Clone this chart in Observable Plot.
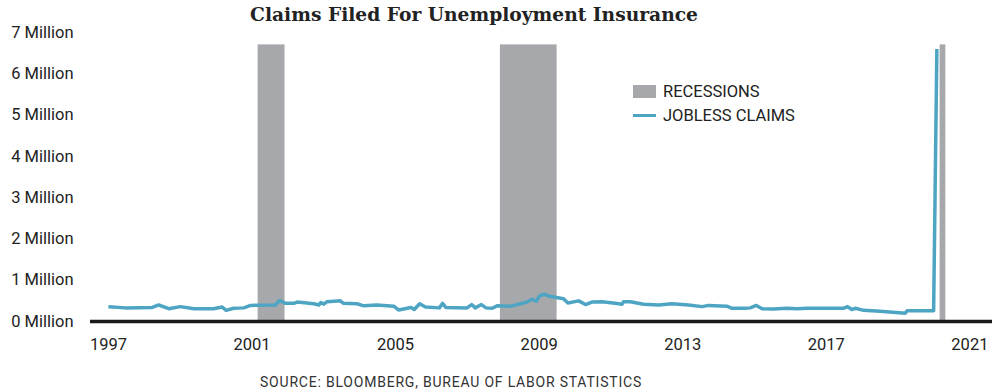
<!DOCTYPE html>
<html>
<head>
<meta charset="utf-8">
<script src="https://cdn.jsdelivr.net/npm/d3@7"></script>
<script src="https://cdn.jsdelivr.net/npm/@observablehq/plot@0.6"></script>
<style>
  html, body { margin: 0; padding: 0; background: #fff; }
  #wrap { position: relative; width: 992px; height: 391px; overflow: hidden; font-family: Roboto, sans-serif; color: #222; }
  #chart { position: absolute; left: 0; top: 0; }
  .title { position: absolute; left: 474px; top: 14px; transform: translate(-50%, -50%); white-space: nowrap;
           font-family: "DejaVu Serif", "Liberation Serif", serif; font-weight: bold; font-size: 17px; line-height: 1; color: #222; }
  .caption { position: absolute; left: 451px; top: 382px; transform: translate(-50%, -50%); white-space: nowrap;
             font-family: Roboto, sans-serif; font-size: 14px; letter-spacing: 0.8px; line-height: 1; color: #333; }
  .legend { position: absolute; left: 633px; top: 79px; font-family: Roboto, sans-serif; font-size: 16.5px; color: #222; }
  .legend .item { display: flex; align-items: center; height: 24px; }
  .legend .sw { width: 23px; margin-right: 7px; }
</style>
</head>
<body>
<div id="wrap">
  <div id="chart"></div>
  <div class="title" id="title"></div>
  <div class="legend" id="legend"></div>
  <div class="caption" id="caption"></div>
</div>
<script>
// ---- data ----
const titleText = "Claims Filed For Unemployment Insurance";
const sourceText = "SOURCE: BLOOMBERG, BUREAU OF LABOR STATISTICS";
const seriesNames = ["RECESSIONS", "JOBLESS CLAIMS"];
const seriesColors = ["#a7a8ac", "#4ea5c3"];

const xTicks = [1997, 2001, 2005, 2009, 2013, 2017, 2021];
const yTicks = [0, 1e6, 2e6, 3e6, 4e6, 5e6, 6e6, 7e6];

// recession periods (decimal years) and bar height
const recessionStart = [2001.17, 2007.92, 2020.17];
const recessionEnd   = [2001.92, 2009.50, 2020.33];
const recessionTop = 6.7e6;

// jobless claims: decimal year and claims (millions)
const claimYears = [
  1997.00, 1997.47, 1998.22, 1998.40, 1998.68, 1999.00, 1999.38, 1999.93, 2000.17, 2000.28,
  2000.49, 2000.77, 2000.96, 2001.65, 2001.77, 2001.93, 2002.16, 2002.26, 2002.72, 2002.86,
  2002.92, 2003.00, 2003.09, 2003.46, 2003.55, 2003.93, 2004.11, 2004.48, 2004.95, 2005.08,
  2005.43, 2005.52, 2005.67, 2005.83, 2006.22, 2006.31, 2006.40, 2006.99, 2007.12, 2007.22,
  2007.39, 2007.52, 2007.69, 2007.83, 2008.20, 2008.48, 2008.66, 2008.80, 2008.92, 2009.01,
  2009.14, 2009.29, 2009.48, 2009.68, 2009.80, 2010.10, 2010.29, 2010.47, 2010.75, 2011.12,
  2011.31, 2011.35, 2011.54, 2011.91, 2012.33, 2012.70, 2013.16, 2013.54, 2013.72, 2014.23,
  2014.37, 2014.74, 2014.88, 2015.05, 2015.21, 2015.53, 2015.90, 2016.18, 2016.46, 2017.48,
  2017.59, 2017.71, 2017.81, 2018.04, 2018.50, 2019.20, 2019.25, 2019.99, 2020.08
];
const claimMillions = [
  0.36, 0.33, 0.34, 0.40, 0.31, 0.36, 0.31, 0.31, 0.35, 0.27,
  0.32, 0.33, 0.39, 0.40, 0.51, 0.44, 0.44, 0.47, 0.43, 0.40,
  0.46, 0.42, 0.48, 0.50, 0.44, 0.43, 0.38, 0.40, 0.37, 0.28,
  0.34, 0.29, 0.43, 0.35, 0.33, 0.44, 0.34, 0.33, 0.41, 0.33,
  0.41, 0.33, 0.32, 0.38, 0.37, 0.43, 0.47, 0.54, 0.49, 0.62,
  0.66, 0.61, 0.58, 0.55, 0.45, 0.50, 0.41, 0.47, 0.48, 0.44,
  0.42, 0.48, 0.48, 0.42, 0.40, 0.43, 0.40, 0.36, 0.39, 0.37,
  0.32, 0.32, 0.33, 0.39, 0.31, 0.30, 0.32, 0.31, 0.32, 0.32,
  0.36, 0.29, 0.32, 0.27, 0.25, 0.20, 0.26, 0.26, 6.60
];

// ---- build tables ----
const recessions = recessionStart.map((s, i) => ({start: s, end: recessionEnd[i], top: recessionTop}));
const claims = claimYears.map((y, i) => ({year: y, value: claimMillions[i] * 1e6}));

const chart = Plot.plot({
  width: 992,
  height: 360,
  marginLeft: 90,
  marginRight: 0,
  marginTop: 32,
  marginBottom: 39,
  style: {fontFamily: "Roboto, sans-serif", fontSize: "16.5px", color: "#222", background: "transparent", overflow: "visible"},
  x: {domain: [1996.5, 2021.63]},
  y: {domain: [0, 7e6]},
  marks: [
    Plot.rect(recessions, {x1: "start", x2: "end", y1: 0, y2: "top", fill: seriesColors[0]}),
    Plot.line(claims, {x: "year", y: "value", stroke: seriesColors[1], strokeWidth: 3.5, strokeLinejoin: "round", strokeLinecap: "butt"}),
    Plot.ruleY([0], {stroke: "#1a1a1a", strokeWidth: 3.5}),
    Plot.axisX({ticks: xTicks, tickFormat: d => String(d), tickSize: 0, tickPadding: 17, label: null, fontSize: 16.5, fill: "#222"}),
    Plot.axisY({ticks: yTicks, tickFormat: d => `${d / 1e6} Million`, tickSize: 0, tickPadding: 17, label: null, fontSize: 16.5, fill: "#222"})
  ]
});
document.getElementById("chart").appendChild(chart);

document.getElementById("title").textContent = titleText;
document.getElementById("caption").textContent = sourceText;

const legend = document.getElementById("legend");
seriesNames.forEach((name, i) => {
  const item = document.createElement("div");
  item.className = "item";
  const sw = document.createElement("div");
  sw.className = "sw";
  sw.style.background = seriesColors[i];
  sw.style.height = i === 0 ? "13px" : "3px";
  const lab = document.createElement("span");
  lab.textContent = name;
  item.appendChild(sw);
  item.appendChild(lab);
  legend.appendChild(item);
});

// fit title and caption widths to the reference
function fitFont(el, target) {
  const w = el.getBoundingClientRect().width;
  const fs = parseFloat(getComputedStyle(el).fontSize);
  el.style.fontSize = (fs * target / w).toFixed(2) + "px";
}
fitFont(document.getElementById("title"), 448);
(function () {
  const el = document.getElementById("caption");
  const w = el.getBoundingClientRect().width;
  const n = sourceText.length;
  const ls = parseFloat(getComputedStyle(el).letterSpacing) || 0;
  el.style.letterSpacing = (ls + (382 - w) / n).toFixed(2) + "px";
})();
</script>
</body>
</html>
